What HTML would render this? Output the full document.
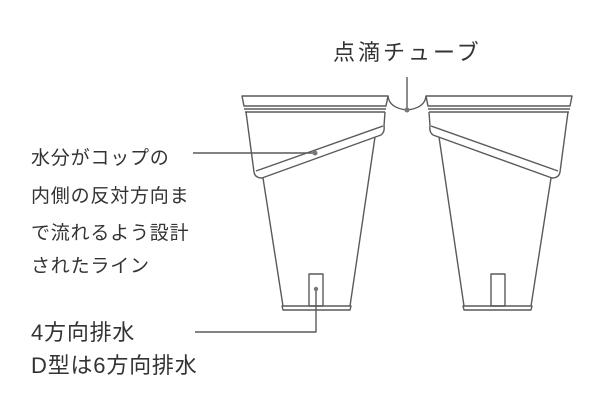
<!DOCTYPE html>
<html><head><meta charset="utf-8"><style>
html,body{margin:0;padding:0;background:#fff;width:600px;height:412px;overflow:hidden}
svg{display:block}
text{font-family:"Liberation Sans","Noto Sans CJK JP",sans-serif;fill:#333}
</style></head><body>
<svg width="600" height="412" viewBox="0 0 600 412" xmlns="http://www.w3.org/2000/svg">
<g fill="none" stroke="#5a5a5a" stroke-width="1.4" stroke-linejoin="round">
 <g id="cup">
  <path d="M242,96 L388,96 L386,106 L244,106 Z"/>
  <line x1="244" y1="109" x2="386" y2="109"/>
  <line x1="245" y1="112" x2="385" y2="112"/>
  <path d="M246,112 L254,172 Q255,178 262,178 L381,135 Q385,132 384,126 L385,112"/>
  <line x1="256" y1="171" x2="383" y2="126"/>
  <line x1="263" y1="178" x2="283" y2="306"/>
  <line x1="375" y1="137" x2="350" y2="306"/>
  <path d="M282,306 L351,306 L350,310 L283,310 Z"/>
  <rect x="309" y="274" width="14" height="32"/>
 </g>
 <use href="#cup" transform="translate(814,0) scale(-1,1)"/>
 <path d="M388,96 Q389,108 407,110 Q425,108 426,96"/>
 <line x1="407" y1="77" x2="407" y2="110"/>
 <line x1="193" y1="153" x2="315" y2="153"/>
 <polyline points="195,332 316,332 316,289"/>
</g>
<g fill="#777"><circle cx="407" cy="110" r="2.5"/><circle cx="315" cy="153" r="2.5"/><circle cx="316" cy="289" r="2.2"/></g>
<text x="333" y="60" font-size="22" letter-spacing="3">点滴チューブ</text>
<g font-size="19" letter-spacing="0.8">
<text x="31" y="164">水分がコップの</text>
<text x="31" y="202">内側の反対方向ま</text>
<text x="31" y="239">で流れるよう設計</text>
<text x="31" y="272">されたライン</text>
<text x="31" y="340" font-size="22">4方向排水</text>
<text x="31" y="373" font-size="22">D型は6方向排水</text>
</g>
</svg>
</body></html>
